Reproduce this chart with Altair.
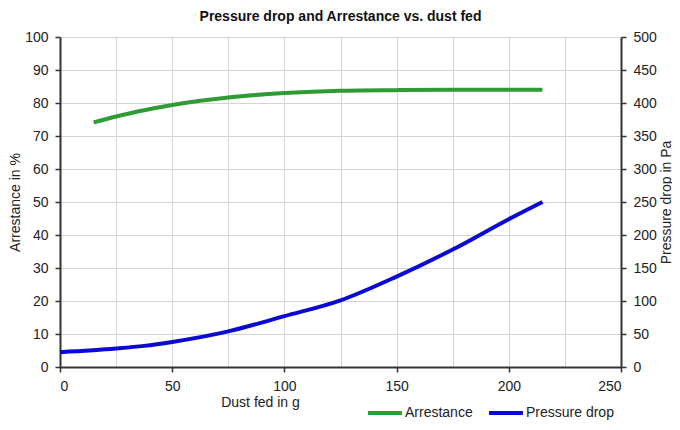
import altair as alt
import pandas as pd

# Arrestance (%) vs dust fed (g)
arr_x = [15, 25, 37.5, 50, 62.5, 75, 100, 125, 150, 175, 200, 215]
arr_y = [74.1, 75.9, 77.8, 79.4, 80.7, 81.7, 83.0, 83.7, 83.9, 84.0, 84.0, 84.0]

# Pressure drop (Pa) vs dust fed (g)
pd_x = [0, 25, 37.5, 50, 75, 100, 125, 150, 175, 200, 215]
pd_y = [22.5, 28, 32, 38, 54, 77, 101, 137, 178, 224, 250]

series = ["Arrestance", "Pressure drop"]
colors = ["#2f9b34", "#0a0ad2"]

df_a = pd.DataFrame({"x": arr_x, "y": arr_y, "series": series[0]})
df_p = pd.DataFrame({"x": pd_x, "y": pd_y, "series": series[1]})

FONT = "Liberation Sans"

xenc = alt.X(
    "x:Q",
    scale=alt.Scale(domain=[0, 250], nice=False),
    axis=alt.Axis(
        values=list(range(0, 251, 25)),
        labelExpr="datum.value % 50 == 0 ? datum.label : ''",
        tickColor={"condition": {"test": "datum.value % 50 == 0", "value": "#333333"}, "value": "transparent"},
        title="Dust fed in g",
        titleX=200,
        titlePadding=2,
        grid=True,
    ),
)

color = alt.Color(
    "series:N",
    scale=alt.Scale(domain=series, range=colors),
    legend=alt.Legend(
        title=None,
        orient="none",
        legendX=306,
        legendY=357,
        direction="horizontal",
        symbolType="stroke",
        symbolStrokeWidth=4,
        symbolSize=1150,
        labelFontSize=14,
        labelFont=FONT,
        labelColor="#222222",
        columnPadding=8,
        labelOffset=1,
    ),
)

left = alt.Chart(df_a).mark_line(strokeWidth=4, interpolate="monotone").encode(
    x=xenc,
    y=alt.Y(
        "y:Q",
        scale=alt.Scale(domain=[0, 100], nice=False),
        axis=alt.Axis(values=list(range(0, 101, 10)), title="Arrestance in %", grid=True,
                      titleX=-45, titleY=165, titleAngle=270, titleBaseline="middle", titleAlign="center"),
    ),
    color=color,
)

right = alt.Chart(df_p).mark_line(strokeWidth=4, interpolate="monotone").encode(
    x=xenc,
    y=alt.Y(
        "y:Q",
        scale=alt.Scale(domain=[0, 500], nice=False),
        axis=alt.Axis(values=list(range(0, 501, 50)), title="Pressure drop in Pa", orient="right",
                      grid=False, titleX=45, titleY=165, titleAngle=270, titleBaseline="middle",
                      titleAlign="center"),
    ),
    color=color,
)

chart = (
    alt.layer(left, right)
    .resolve_scale(y="independent")
    .properties(
        width=561,
        height=330,
        title=alt.TitleParams(
            "Pressure drop and Arrestance vs. dust fed",
            fontSize=14,
            font=FONT,
            fontWeight="bold",
            color="#111111",
            anchor="middle",
            offset=6,
        ),
        autosize=alt.AutoSizeParams(type="none"),
        padding={"left": 52, "top": 29, "right": 51, "bottom": 55},
        background="white",
    )
    .configure_view(strokeWidth=0)
    .configure_axis(
        labelFont=FONT,
        titleFont=FONT,
        labelFontSize=14,
        titleFontSize=14,
        titleFontWeight="normal",
        labelColor="#222222",
        titleColor="#222222",
        domainColor="#333333",
        domainWidth=2,
        tickColor="#333333",
        tickWidth=1.5,
        tickSize=5,
        gridColor="#d4d4d4",
        gridWidth=1,
        labelPadding=7,
    )
)

chart.save("out.html", embed_options={"renderer": "svg", "actions": False})
